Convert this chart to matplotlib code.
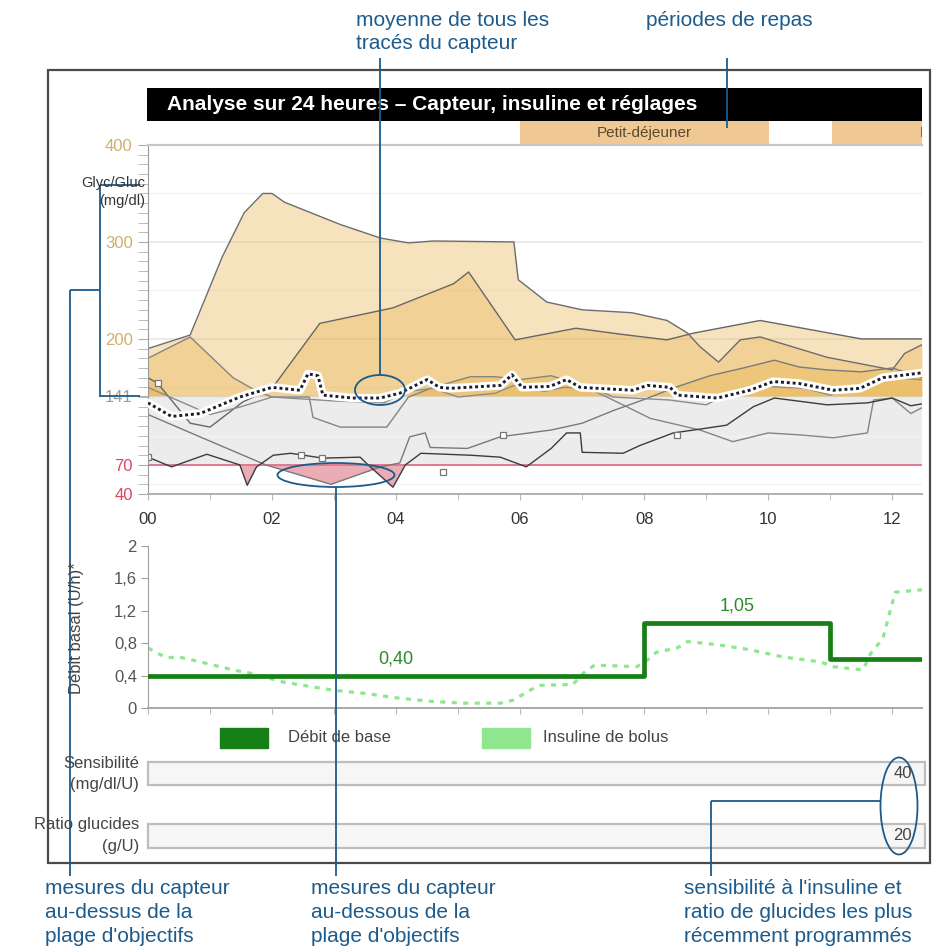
import matplotlib
matplotlib.use('Agg')
import numpy as np
import matplotlib.pyplot as plt
from matplotlib.patches import Rectangle, Ellipse

plt.rcParams['font.family'] = ['Liberation Sans', 'DejaVu Sans']

# ---------------- data ----------------
hour_ticks = [0, 2, 4, 6, 8, 10, 12]
hour_labels = ['00', '02', '04', '06', '08', '10', '12']
x_max = 12.48

glucose_ticks = [40, 70, 141, 200, 300, 400]
glucose_labels = ['40', '70', '141', '200', '300', '400']
target_low, target_high = 70, 141

sensor_1_t = [0, 0.68, 1.2, 1.55, 1.85, 2.0, 2.2, 3.1, 3.75, 4.2, 4.6, 5.9, 5.97, 6.43, 7.0, 7.8, 8.37,
              8.7, 8.9, 9.2, 9.55, 9.87, 10.95, 12.0, 12.2, 12.48]
sensor_1_v = [190, 204, 285, 330, 350, 350, 341, 318, 304, 299, 301, 300, 261, 238, 230, 227, 219,
              206, 192, 176, 199, 202, 181, 168, 185, 194]

sensor_2_t = [0, 0.68, 1.37, 1.7, 2.0, 2.6, 2.66, 3.1, 3.85, 4.2, 4.6, 5.2, 5.6, 6.0, 6.5, 7.0, 7.4,
              8.1, 8.9, 9.43, 10.0, 10.5, 11.05, 11.6, 11.7, 12.0, 12.3, 12.48]
sensor_2_v = [180, 202, 160, 148, 140, 140, 119, 109, 109, 140, 150, 161, 161, 158, 162, 152, 140,
              118, 106, 94, 103, 101, 98, 103, 137, 139, 123, 129]

sensor_3_t = [0, 0.16, 0.68, 1.0, 1.53, 2.0, 2.77, 3.95, 4.93, 5.17, 5.92, 6.9, 7.6, 8.37, 8.8, 9.87,
              11.5, 12.48]
sensor_3_v = [160, 154, 113, 109, 135, 149, 216, 232, 257, 269, 199, 211, 205, 199, 206, 219,
              200, 200]

sensor_4_t = [0, 0.8, 1.9, 2.95, 3.75, 4.06, 4.22, 4.47, 4.55, 5.15, 5.68, 6.5, 7.0, 7.5, 7.98, 8.5,
              9.06, 9.6, 10.1, 10.5, 10.95, 11.5, 12.0, 12.48]
sensor_4_v = [122, 100, 70, 50, 68, 72, 99, 103, 88, 87, 99, 106, 113, 126, 137, 150,
              162, 170, 178, 171, 168, 166, 170, 160]

sensor_5_t = [0, 0.38, 0.95, 1.48, 1.6, 1.75, 2.02, 2.3, 2.82, 3.42, 3.55, 3.95, 4.15, 4.4, 5.2, 5.68,
              6.1, 6.5, 6.75, 6.97, 7.0, 7.66, 7.93, 8.47, 8.8, 9.33, 9.76, 10.1, 10.95, 11.6, 12.0,
              12.3, 12.48]
sensor_5_v = [78, 68, 81, 70, 49, 68, 80, 82, 77, 78, 70, 47, 70, 82, 80, 78,
              68, 87, 103, 103, 83, 82, 90, 103, 106, 111, 130, 139, 132, 134, 139,
              131, 133]

sensor_6_t = [0, 0.5, 1.0, 1.5, 2.0, 3.0, 3.8, 4.2, 4.6, 5.0, 5.6, 5.9, 6.4, 6.7, 7.2, 7.5, 8.4, 9.0,
              9.4, 10.0, 10.6, 11.0, 11.4, 12.0, 12.48]
sensor_6_v = [150, 136, 122, 130, 140, 136, 134, 146, 149, 140, 144, 152, 146, 150, 149, 140, 137, 132,
              145, 151, 149, 142, 150, 160, 158]

sensor_traces = [
    (sensor_1_t, sensor_1_v, '#6c6c6c'),
    (sensor_2_t, sensor_2_v, '#858585'),
    (sensor_3_t, sensor_3_v, '#666666'),
    (sensor_4_t, sensor_4_v, '#7a7a7a'),
    (sensor_5_t, sensor_5_v, '#3c3c3c'),
    (sensor_6_t, sensor_6_v, '#8c8c8c'),
]

mean_t = [0, 0.38, 0.84, 1.48, 2.0, 2.45, 2.58, 2.74, 2.82, 3.3, 3.74, 4.06, 4.5, 4.7, 4.87, 5.68,
          5.87, 6.03, 6.48, 6.75, 6.97, 7.82, 8.05, 8.42, 8.53, 9.18, 9.7, 10.08, 10.5, 11.05, 11.48,
          11.85, 12.48]
mean_v = [134, 120, 123, 140, 150, 147, 164, 162, 142, 139, 139, 144, 158, 150, 149, 152,
          163, 150, 151, 158, 150, 147, 152, 150, 142, 139, 147, 156, 154, 147, 149,
          160, 165]

calib_t = [0.0, 0.16, 2.47, 2.8, 4.76, 5.73, 8.53]
calib_v = [78, 154, 80, 77, 63, 101, 101]

meal_start = [6.0, 11.03]
meal_end = [10.02, 14.85]
meal_names = ['Petit-déjeuner', 'Déjeuner']

basal_start = [0, 8, 11]
basal_rate = [0.40, 1.05, 0.60]
basal_labels = ['0,40', '1,05', '']

bolus_t = [0, 0.3, 0.5, 0.84, 1.37, 1.65, 2.18, 2.98, 3.5, 4.06, 4.6, 5.1, 5.68, 5.9, 6.16, 6.32,
           6.85, 7.02, 7.2, 7.88, 8.05, 8.2, 8.53, 8.7, 9.2, 9.7, 10.24, 10.84, 11.05, 11.53, 11.65,
           11.85, 11.97, 12.05, 12.48]
bolus_v = [0.74, 0.62, 0.63, 0.57, 0.47, 0.43, 0.32, 0.22, 0.18, 0.12, 0.08, 0.06, 0.06, 0.1, 0.22,
           0.28, 0.29, 0.43, 0.53, 0.51, 0.59, 0.69, 0.74, 0.82, 0.78, 0.72, 0.63, 0.57, 0.51, 0.47,
           0.67, 0.86, 1.21, 1.43, 1.46]

basal_ticks = [0, 0.4, 0.8, 1.2, 1.6, 2]
basal_tick_labels = ['0', '0,4', '0,8', '1,2', '1,6', '2']

sensitivity_value = '40'
carb_ratio_value = '20'

# ---------------- figure ----------------
W, H = 936, 949
fig = plt.figure(figsize=(W / 100, H / 100), dpi=100)


def px_axes(x0, y0, x1, y1, **kw):
    return fig.add_axes([x0 / W, 1 - y1 / H, (x1 - x0) / W, (y1 - y0) / H], **kw)


TXT = '#444444'

# --- title bar ---
tax = px_axes(147, 88, 922, 121)
tax.set_axis_off()
tax.add_patch(Rectangle((0, 0), 1, 1, transform=tax.transAxes, color='black'))
tax.text(0.026, 0.5, 'Analyse sur 24 heures \u2013 Capteur, insuline et réglages',
         transform=tax.transAxes, color='white', fontsize=15, fontweight='bold', va='center')

# --- meal periods band ---
max_ = px_axes(148, 121, 922, 145)
max_.set_xlim(0, x_max)
max_.set_ylim(0, 1)
max_.set_axis_off()
for s, e, name in zip(meal_start, meal_end, meal_names):
    max_.barh(0.5, e - s, left=s, height=1.0, color='#efc893', edgecolor='none')
    max_.text((s + e) / 2, 0.5, name, ha='center', va='center', fontsize=11,
              color='#5a4a2e', clip_on=True)

# --- glucose panel ---
gax = px_axes(148, 145, 922, 494)
gax.set_xlim(0, x_max)
gax.set_ylim(40, 400)
gax.axhspan(target_low, target_high, color='#ececec', zorder=0, lw=0)
for y in [50, 100, 150, 250, 350]:
    gax.axhline(y, color='#f3f3f3', lw=1, zorder=0.5)
for y in [200, 300]:
    gax.axhline(y, color='#e8e8e8', lw=1.2, zorder=0.5)
gax.axhline(target_high, color='#dddddd', lw=1, zorder=0.6)

for t, v, c in sensor_traces:
    t = np.asarray(t, float)
    v = np.asarray(v, float)
    gax.fill_between(t, target_high, v, where=v > target_high, interpolate=True,
                     color='#e9b654', alpha=0.38, lw=0, zorder=1)
    gax.fill_between(t, v, target_low, where=v < target_low, interpolate=True,
                     color='#d65a6c', alpha=0.5, lw=0, zorder=1.2)

gax.axhline(target_low, color='#e0788e', lw=1.4, zorder=1.5)

for t, v, c in sensor_traces:
    gax.plot(t, v, color=c, lw=1.0, zorder=2)

gax.plot(calib_t, calib_v, ls='none', marker='s', ms=5, mfc='white', mec='#777777',
         mew=0.9, zorder=2.5)

gax.plot(mean_t, mean_v, color='white', lw=6, solid_capstyle='round', zorder=3)
gax.plot(mean_t, mean_v, color='#1c1c2a', lw=2.1, ls=(0, (1, 1)), zorder=3.1)

gax.spines['right'].set_visible(False)
gax.spines['top'].set_color('#c8c8c8')
gax.spines['top'].set_linewidth(1.6)
gax.spines['left'].set_color('#9a9a9a')
gax.spines['bottom'].set_color('#b0b0b0')
gax.spines['bottom'].set_linewidth(1.4)

gax.set_yticks(glucose_ticks)
gax.set_yticklabels(glucose_labels)
gax.set_yticks(np.arange(40, 401, 10), minor=True)
label_colors = {'40': '#d9485f', '70': '#d9485f', '141': '#9c9c9c',
                '200': '#cfb06a', '300': '#cfb06a', '400': '#cfb06a'}
for lab in gax.get_yticklabels():
    lab.set_color(label_colors[lab.get_text()])
gax.tick_params(axis='y', which='both', length=7, color='#b0b0b0', labelsize=12, pad=4)
gax.set_xticks(hour_ticks)
gax.set_xticklabels(hour_labels)
gax.set_xticks(np.arange(0, 13, 1), minor=True)
gax.tick_params(axis='x', which='both', length=4, color='#b8b8b8', labelsize=12,
                labelcolor='#333333', pad=9)

# --- basal / bolus panel ---
bax = px_axes(148, 546, 922, 708)
bax.set_xlim(0, x_max)
bax.set_ylim(0, 2)
bolus_line, = bax.plot(bolus_t, bolus_v, color='#8fe68f', lw=2.3, ls=(0, (1.6, 2.0)), zorder=2)
step_t = basal_start + [x_max]
step_v = basal_rate + [basal_rate[-1]]
basal_line, = bax.step(step_t, step_v, where='post', color='#168016', lw=3.4, zorder=3)
for i, lab in enumerate(basal_labels):
    if lab:
        mid = (step_t[i] + step_t[i + 1]) / 2
        bax.text(mid, basal_rate[i] + 0.21, lab, ha='center', va='center', fontsize=13,
                 color='#2f8a2f')
for side in ['top', 'right']:
    bax.spines[side].set_visible(False)
bax.spines['left'].set_color('#a0a0a0')
bax.spines['bottom'].set_color('#a8a8a8')
bax.spines['bottom'].set_linewidth(1.4)
bax.set_yticks(basal_ticks)
bax.set_yticklabels(basal_tick_labels)
bax.set_xticks(np.arange(0, 13, 1))
bax.set_xticklabels([])
bax.tick_params(axis='y', length=5, color='#a0a0a0', labelsize=12, labelcolor='#555555', pad=3)
bax.tick_params(axis='x', length=4, color='#b8b8b8')

# --- overlay: frame, labels, legend, settings rows, callouts ---
ov = fig.add_axes([0, 0, 1, 1], zorder=10)
ov.set_xlim(0, W)
ov.set_ylim(H, 0)
ov.set_axis_off()

ov.add_patch(Rectangle((48, 70), 882, 793, fill=False, ec='#4a4a4a', lw=1.6))

ov.text(145, 183, 'Glyc/Gluc', ha='right', va='center', fontsize=10.5, color='#333333')
ov.text(145, 201, '(mg/dl)', ha='right', va='center', fontsize=10.5, color='#333333')

ov.text(77, 628, 'Débit basal (U/h)*', rotation=90, ha='center', va='center',
        fontsize=12, color=TXT)

# legend
ov.add_patch(Rectangle((220, 728), 48, 20, color=basal_line.get_color()))
ov.text(288, 738, 'Débit de base', va='center', fontsize=12, color=TXT)
ov.add_patch(Rectangle((482, 728), 48, 20, color='#8fe68f'))
ov.text(543, 738, 'Insuline de bolus', va='center', fontsize=12, color=TXT)

# settings rows
for y0, h, labels, value in [(762, 23, ('Sensibilité', '(mg/dl/U)'), sensitivity_value),
                             (824, 24, ('Ratio glucides', '(g/U)'), carb_ratio_value)]:
    ov.add_patch(Rectangle((148, y0), 777, h, fc='#f6f6f6', ec='#bdbdbd', lw=1.6))
    ov.text(139, y0 + 1, labels[0], ha='right', va='center', fontsize=12, color=TXT)
    ov.text(139, y0 + 22, labels[1], ha='right', va='center', fontsize=12, color=TXT)
    ov.text(912, y0 + h / 2, value, ha='right', va='center', fontsize=12, color=TXT)

# callouts
BLUE = '#1d5b8c'
LW = 1.3


def seg(xs, ys):
    ov.plot(xs, ys, color=BLUE, lw=LW, solid_capstyle='butt')


def note(x, ys, lines):
    for y, s in zip(ys, lines):
        ov.text(x, y, s, color=BLUE, fontsize=15, va='center', ha='left')


note(356, [20, 43], ['moyenne de tous les', 'tracés du capteur'])
seg([380, 380], [58, 375])
ov.add_patch(Ellipse((380, 390), 50, 30, fill=False, ec=BLUE, lw=LW))

note(646, [20], ['périodes de repas'])
seg([727, 727], [58, 128])

seg([100, 100], [185, 397])
seg([100, 140], [185, 185])
seg([100, 140], [396, 396])
seg([70, 100], [290, 290])
seg([70, 70], [290, 876])
note(45, [889, 913, 937], ['mesures du capteur', 'au-dessus de la', "plage d'objectifs"])

ov.add_patch(Ellipse((336, 475), 117, 24, fill=False, ec=BLUE, lw=LW))
seg([336, 336], [487, 876])
note(311, [889, 913, 937], ['mesures du capteur', 'au-dessous de la', "plage d'objectifs"])

ov.add_patch(Ellipse((899, 806), 37, 97, fill=False, ec=BLUE, lw=LW))
seg([711, 881], [801, 801])
seg([711, 711], [801, 876])
note(684, [889, 913, 937], ["sensibilité à l'insuline et", 'ratio de glucides les plus',
                            'récemment programmés'])

fig.savefig('out.png', dpi=100)
